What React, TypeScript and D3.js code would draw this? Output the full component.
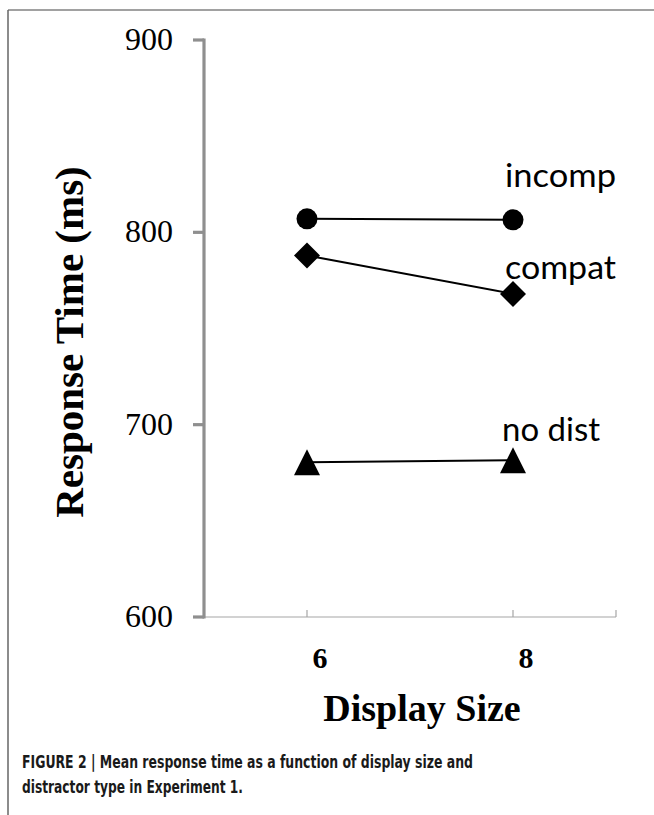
import React from "react";
import * as d3 from "d3";

const displaySizes = [6, 8];
const incompValues = [807, 806.5];
const compatValues = [788, 768];
const noDistValues = [680.5, 681.5];
const yTicks = [600, 700, 800, 900];
const xTickLabels = [6, 8];
const seriesNames = ["incomp", "compat", "no dist"];
const captionLines = [
  "FIGURE 2 | Mean response time as a function of display size and",
  "distractor type in Experiment 1.",
];

const W = 654;
const H = 815;

export default function App() {
  const x = d3.scaleLinear().domain([5, 9]).range([204, 616]);
  const y = d3.scaleLinear().domain([600, 900]).range([617, 40]);
  const line = d3
    .line<number>()
    .x((_, i) => x(displaySizes[i]))
    .y((d) => y(d));

  const axisGray = "#8f8f8f";
  const labelFont = "Lato, 'Open Sans', sans-serif";
  const serif = "'Liberation Serif', 'Times New Roman', serif";

  const series = [
    { name: seriesNames[0], values: incompValues, shape: "circle" },
    { name: seriesNames[1], values: compatValues, shape: "diamond" },
    { name: seriesNames[2], values: noDistValues, shape: "triangle" },
  ];
  const labelOffsets = [-33, -15, -19];
  const labelLengths = [111, 111, 98];
  const labelDx = [-8, -8, -11];

  const marker = (shape: string, cx: number, cy: number, key: string) => {
    if (shape === "circle") return <circle key={key} cx={cx} cy={cy} r={10.5} fill="#000" />;
    if (shape === "diamond")
      return (
        <path
          key={key}
          d={`M${cx},${cy - 13}L${cx + 13},${cy}L${cx},${cy + 13}L${cx - 13},${cy}Z`}
          fill="#000"
        />
      );
    return (
      <path
        key={key}
        d={`M${cx},${cy - 13}L${cx + 13},${cy + 13}L${cx - 13},${cy + 13}Z`}
        fill="#000"
      />
    );
  };

  return (
    <svg
      width={W}
      height={H}
      style={{ position: "absolute", left: 0, top: 0, background: "#fff" }}
    >
      <rect x={0} y={0} width={W} height={H} fill="#fff" />
      {/* frame */}
      <line x1={8} y1={10} x2={W} y2={10} stroke="#444" strokeWidth={1.2} />
      <line x1={8} y1={10} x2={8} y2={H} stroke="#666" strokeWidth={1.5} />

      {/* x axis */}
      <line x1={x(5)} y1={y(600)} x2={x(9)} y2={y(600)} stroke="#a6a6a6" strokeWidth={1.2} />
      {[6, 8, 9].map((t) => (
        <line key={t} x1={x(t)} x2={x(t)} y1={y(600)} y2={y(600) - 7} stroke="#a6a6a6" strokeWidth={1.2} />
      ))}
      {/* y axis */}
      <line x1={x(5)} y1={y(900) - 1.5} x2={x(5)} y2={y(600) + 1.5} stroke={axisGray} strokeWidth={3.2} />
      {yTicks.map((t) => (
        <g key={t}>
          <line x1={x(5) - 11} x2={x(5)} y1={y(t)} y2={y(t)} stroke={axisGray} strokeWidth={3.2} />
          <text x={173} y={y(t) + 10} textAnchor="end" fontFamily={serif} fontSize={32} fill="#000">
            {t}
          </text>
        </g>
      ))}
      {xTickLabels.map((t) => (
        <text
          key={t}
          x={x(t) + 13}
          y={668}
          textAnchor="middle"
          fontFamily={serif}
          fontWeight="bold"
          fontSize={30}
          fill="#000"
        >
          {t}
        </text>
      ))}
      <text x={422} y={721} textAnchor="middle" fontFamily={serif} fontWeight="bold" fontSize={38} fill="#000">
        Display Size
      </text>
      <text
        transform={`translate(83,342) rotate(-90)`}
        textAnchor="middle"
        fontFamily={serif}
        fontWeight="bold"
        fontSize={41}
        fill="#000"
      >
        Response Time (ms)
      </text>

      {/* series */}
      {series.map((s, si) => (
        <g key={s.name}>
          <path d={line(s.values) || ""} fill="none" stroke="#000" strokeWidth={2} />
          {s.values.map((v, i) => marker(s.shape, x(displaySizes[i]), y(v), `${s.name}-${i}`))}
          <text
            x={x(8) + labelDx[si]}
            y={y(s.values[1]) + labelOffsets[si]}
            fontFamily={labelFont}
            fontSize={33}
            textLength={labelLengths[si]}
            lengthAdjust="spacingAndGlyphs"
            fill="#000"
          >
            {s.name}
          </text>
        </g>
      ))}

      {/* caption */}
      {captionLines.map((c, i) => (
        <text
          key={i}
          x={22}
          y={768 + i * 25}
          fontFamily="'Liberation Sans Narrow', 'DejaVu Sans Condensed', 'Liberation Sans', sans-serif"
          fontWeight="bold"
          fontSize={18.5}
          textLength={i === 0 ? 451 : 221}
          lengthAdjust="spacingAndGlyphs"
          fill="#1a1a1a"
        >
          {c}
        </text>
      ))}
    </svg>
  );
}
